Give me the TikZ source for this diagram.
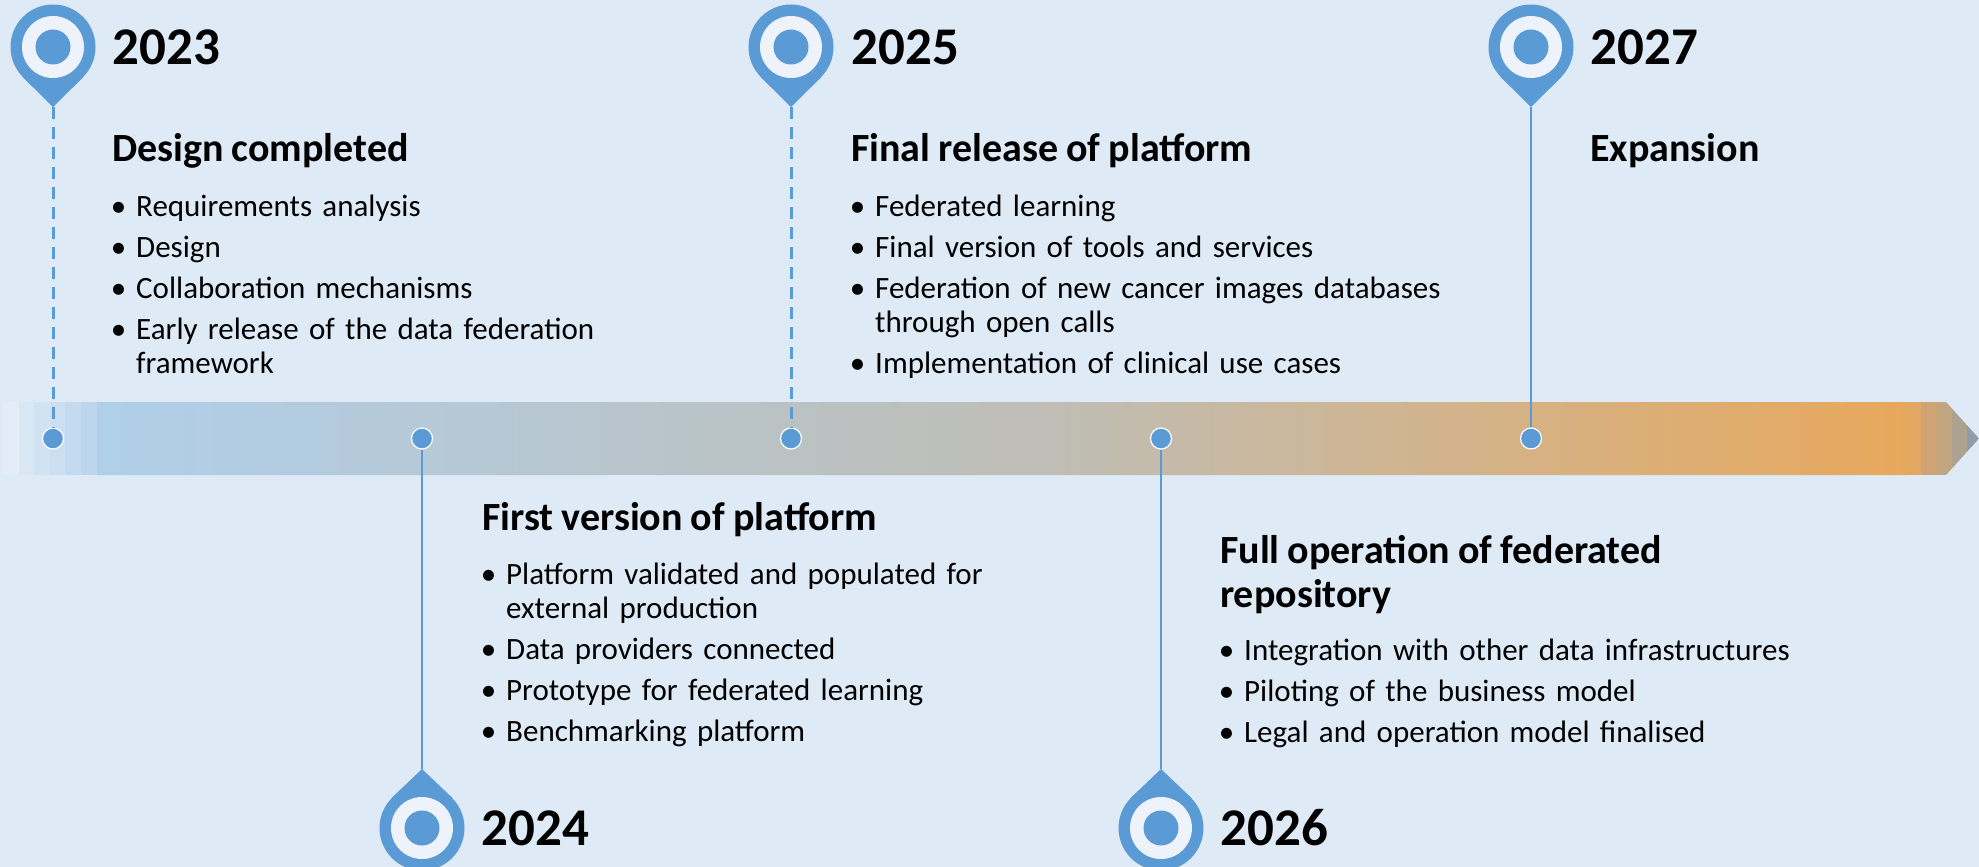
\documentclass[tikz,border=0pt]{standalone}
\usepackage{fontspec}
\setmainfont[WordSpace=0.9]{Carlito}
\usepackage{enumitem}
\definecolor{PageBlue}{HTML}{DEEAF6}
\definecolor{PinBlue}{HTML}{5B9BD5}
\definecolor{RingWhite}{HTML}{EEF3FB}
\definecolor{BarBlue}{HTML}{B0CFEA}
\definecolor{BarGrey}{HTML}{BFBDB4}
\definecolor{BarOrange}{HTML}{E8A85C}
\definecolor{StartA}{HTML}{E3ECF7}
\definecolor{StartB}{HTML}{D9E6F4}
\definecolor{StartC}{HTML}{D1E2F3}
\definecolor{StartD}{HTML}{CBDFF1}
\definecolor{StartE}{HTML}{C4DAEF}
\definecolor{StartF}{HTML}{BDD6EE}
\definecolor{EndA}{HTML}{E3A764}
\definecolor{EndB}{HTML}{CFA373}
\definecolor{EndC}{HTML}{C2A581}
\definecolor{EndD}{HTML}{ADA28F}
\definecolor{EndE}{HTML}{8E9DA8}
\usetikzlibrary{positioning}
\newcommand{\pinlist}[1]{\begin{itemize}[leftmargin=24pt,labelsep=10pt,itemsep=7pt,parsep=0pt,topsep=0pt,partopsep=0pt]#1\end{itemize}}
\tikzset{
  % Pin styles
  pinhead/.style={circle, fill=PinBlue, inner sep=0pt, minimum size=85pt},
  pinring/.style={circle, fill=RingWhite, inner sep=0pt, minimum size=62pt},
  pindot/.style={circle, fill=PinBlue, inner sep=0pt, minimum size=35pt},
  stopdot/.style={circle, draw=white, line width=1.2pt, fill=PinBlue, inner sep=0pt, minimum size=21pt},
  pinline/.style={draw=PinBlue, line width=1.5pt},
  dashline/.style={draw=PinBlue, line width=3pt, dash pattern=on 12pt off 8pt},
  % Text styles
  yearlabel/.style={font=\fontsize{53}{60}\selectfont\bfseries, inner sep=0pt},
  headlabel/.style={font=\fontsize{40}{44}\selectfont\bfseries, inner sep=0pt, align=left},
  listlabel/.style={font=\fontsize{31}{34}\selectfont, inner sep=0pt, text width=680pt}
}
\begin{document}
\begin{tikzpicture}[x=1pt, y=-1pt]
  \useasboundingbox (0,0) rectangle (1979,867);
  \fill[PageBlue] (0,0) rectangle (1979,867);

  % Bar
  \coordinate (barA) at (0,402);
  \coordinate (barB) at (1946,402);
  \coordinate (barC) at (1979,438.5);
  \coordinate (barD) at (1946,475);
  \coordinate (barE) at (0,475);
  \begin{scope}
    \clip (barA) -- (barB) -- (barC) -- (barD) -- (barE) -- cycle;
    \shade[left color=BarBlue, right color=BarGrey] (97,402) rectangle (1060,475);
    \shade[left color=BarGrey, right color=BarOrange] (1060,402) rectangle (1906,475);
    \foreach \xa/\xb/\bandcol in {3/19/StartA, 19/34/StartB, 34/50/StartC, 50/65/StartD, 65/81/StartE, 81/97/StartF,
      1906/1921/EndA, 1921/1937/EndB, 1937/1952/EndC, 1952/1967/EndD, 1967/1979/EndE}
      \fill[\bandcol] (\xa,402) rectangle (\xb,475);
  \end{scope}

  % Pins
  \node[pinhead] (pin1) at (53,47) {};
  \node[pinhead] (pin2) at (422,828) {};
  \node[pinhead] (pin3) at (791,47) {};
  \node[pinhead] (pin4) at (1161,828) {};
  \node[pinhead] (pin5) at (1531,47) {};
  \coordinate (tip1) at (53,107);
  \coordinate (tip2) at (422,769);
  \coordinate (tip3) at (791,107);
  \coordinate (tip4) at (1161,769);
  \coordinate (tip5) at (1531,107);
  \fill[PinBlue] (pin1.225) -- (tip1) -- (pin1.315) -- cycle;
  \fill[PinBlue] (pin3.225) -- (tip3) -- (pin3.315) -- cycle;
  \fill[PinBlue] (pin5.225) -- (tip5) -- (pin5.315) -- cycle;
  \fill[PinBlue] (pin2.135) -- (tip2) -- (pin2.45) -- cycle;
  \fill[PinBlue] (pin4.135) -- (tip4) -- (pin4.45) -- cycle;
  \foreach \p in {pin1,pin2,pin3,pin4,pin5} {
    \node[pinring] (\p ring) at (\p) {};
    \node[pindot] (\p dot) at (\p) {};
  }

  % Stops on the bar
  \node[stopdot] (stop1) at (53,438.5) {};
  \node[stopdot] (stop2) at (422,438.5) {};
  \node[stopdot] (stop3) at (791,438.5) {};
  \node[stopdot] (stop4) at (1161,438.5) {};
  \node[stopdot] (stop5) at (1531,438.5) {};
  \draw[dashline] (tip1) -- (stop1);
  \draw[pinline] (stop2) -- (tip2);
  \draw[dashline] (tip3) -- (stop3);
  \draw[pinline] (stop4) -- (tip4);
  \draw[pinline] (tip5) -- (stop5);

  % Years
  \node[yearlabel, right=17pt of pin1] (year1) {2023};
  \node[yearlabel, right=17pt of pin2] (year2) {2024};
  \node[yearlabel, right=18pt of pin3] (year3) {2025};
  \node[yearlabel, right=17pt of pin4] (year4) {2026};
  \node[yearlabel, right=17pt of pin5] (year5) {2027};

  % Headings
  \node[headlabel, anchor=west] (head1) at (112,150.5) {Design completed};
  \node[headlabel, anchor=west] (head2) at (482,519.5) {First version of platform};
  \node[headlabel, anchor=west] (head3) at (851,150.5) {Final release of platform};
  \node[headlabel, anchor=west] (head4) at (1220,574.5) {Full operation of federated\\repository};
  \node[headlabel, anchor=west] (head5) at (1590,150.5) {Expansion};

  % Lists
  \node[listlabel, anchor=north west] (list1) at (112,182) {\pinlist{
    \item Requirements analysis
    \item Design
    \item Collaboration mechanisms
    \item Early release of the data federation\\framework}};
  \node[listlabel, anchor=north west] (list2) at (482,550.5) {\pinlist{
    \item Platform validated and populated for\\external production
    \item Data providers connected
    \item Prototype for federated learning
    \item Benchmarking platform}};
  \node[listlabel, anchor=north west] (list3) at (851,182) {\pinlist{
    \item Federated learning
    \item Final version of tools and services
    \item Federation of new cancer images databases\\through open calls
    \item Implementation of clinical use cases}};
  \node[listlabel, anchor=north west] (list4) at (1220,626.5) {\pinlist{
    \item Integration with other data infrastructures
    \item Piloting of the business model
    \item Legal and operation model finalised}};
\end{tikzpicture}
\end{document}
